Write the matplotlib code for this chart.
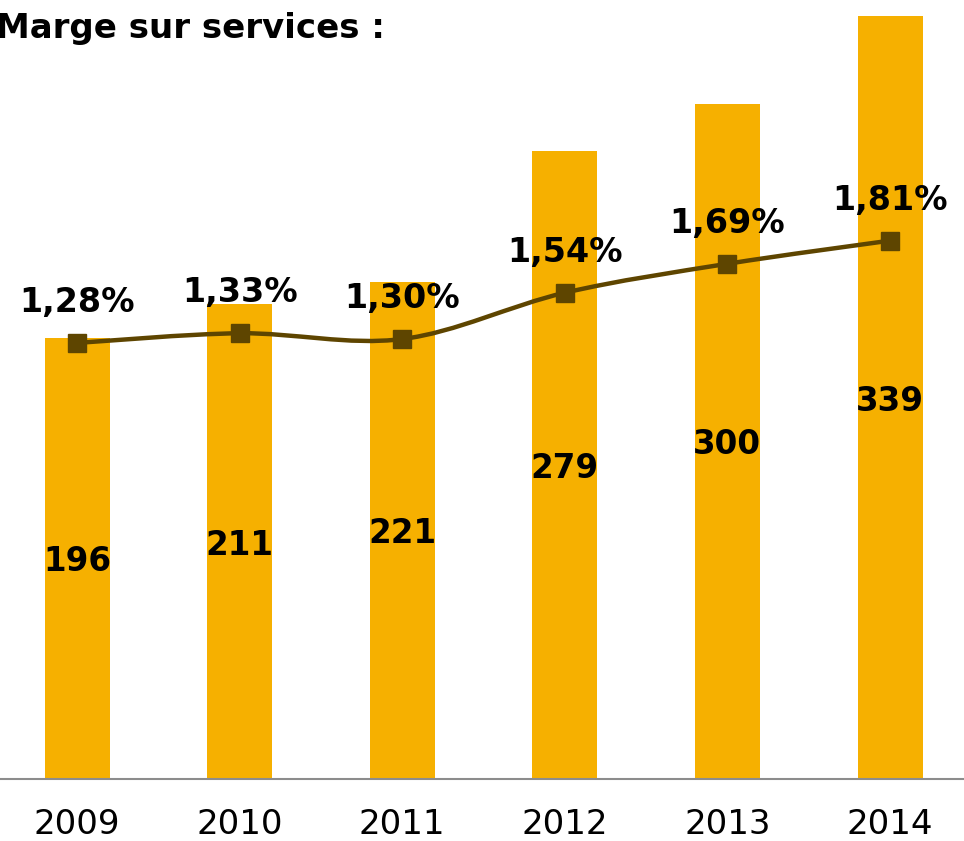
import matplotlib.pyplot as plt
from matplotlib.path import Path
from matplotlib.patches import PathPatch


# _____DATA____

years = ['2009', '2010', '2011', '2012', '2013', '2014']
margin = [196, 211, 221, 279, 300, 339]
margin_pct = [1.28, 1.33, 1.30, 1.54, 1.69, 1.81]

BAR_COLOR = '#F6B000'
LINE_COLOR = '#5E4500'


def _smooth_path(xs, ys):
    # catmull-rom curve through the points, expressed as cubic bezier segments
    pts = list(zip(xs, ys))
    verts = [pts[0]]
    codes = [Path.MOVETO]
    for i in range(len(pts) - 1):
        p0 = pts[i - 1] if i > 0 else pts[i]
        p1 = pts[i]
        p2 = pts[i + 1]
        p3 = pts[i + 2] if i + 2 < len(pts) else pts[i + 1]
        c1 = (p1[0] + (p2[0] - p0[0]) / 6, p1[1] + (p2[1] - p0[1]) / 6)
        c2 = (p2[0] - (p3[0] - p1[0]) / 6, p2[1] - (p3[1] - p1[1]) / 6)
        verts += [c1, c2, p2]
        codes += [Path.CURVE4] * 3
    return Path(verts, codes)


# create figure
fig = plt.figure(figsize=(9.64, 8.41), dpi=100)
ax = fig.add_axes([0, 0.0737, 1, 0.9263])
ax2 = ax.twinx()

x = list(range(len(years)))

# bars
ax.bar(x, margin, width=0.4, color=BAR_COLOR, zorder=2)
for xi, v in zip(x, margin):
    ax.annotate(str(v), (xi, v / 2), xytext=(0, -2.5), textcoords='offset points',
                ha='center', va='center', fontsize=23.5, fontweight='bold',
                color='black')

ax.set_xlim(-0.474, 5.455)
ax.set_ylim(0, 346.2)

# smoothed percentage line
ax2.add_patch(PathPatch(_smooth_path(x, margin_pct), fill=False,
                        edgecolor=LINE_COLOR, lw=3.2, zorder=3))
ax2.plot(x, margin_pct, linestyle='none', marker='s', markersize=13.5,
         color=LINE_COLOR, zorder=4)
for xi, v in zip(x, margin_pct):
    label = '{:.2f}'.format(v).replace('.', ',') + '%'
    ax2.annotate(label, (xi, v), xytext=(0, 29), textcoords='offset points',
                 ha='center', va='center', fontsize=24, fontweight='bold',
                 color='black')
ax2.set_ylim(-0.98, 3.057)

# customise axes
for a in (ax, ax2):
    for side in ('top', 'left', 'right'):
        a.spines[side].set_visible(False)
    a.set_yticks([])
ax2.spines['bottom'].set_visible(False)
ax.spines['bottom'].set_color('#8c8c8c')
ax.spines['bottom'].set_linewidth(1.5)
ax.set_xticks(x)
ax.set_xticklabels(years, fontsize=24.5)
ax.tick_params(axis='x', length=0, pad=21)

fig.text(-0.004, 0.986, 'Marge sur services :', ha='left', va='top',
         fontsize=24.5, fontweight='bold')

plt.savefig('out.png', dpi=100)
plt.close('all')
